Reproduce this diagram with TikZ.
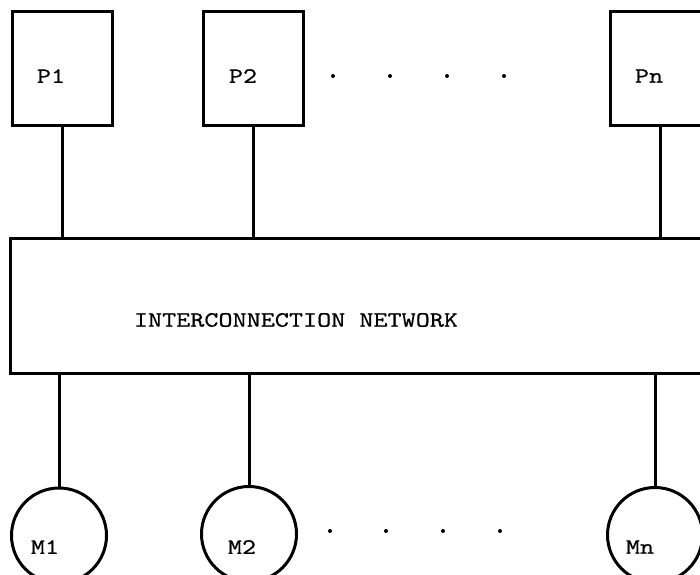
\documentclass[tikz,border=0pt]{standalone}
\usepackage{fontspec}
\newfontfamily\cfont[FakeStretch=1.22,FakeBold=0.6]{lmmono10-regular.otf}
\begin{document}
\begin{tikzpicture}[x=1pt,y=-1pt,
  every node/.style={font=\cfont\fontsize{22}{26}\selectfont},
  procbox/.style={draw,line width=3pt,minimum width=100pt,minimum height=114pt,inner sep=0pt},
  netbox/.style={draw,line width=3pt,minimum width=710pt,minimum height=135pt,inner sep=0pt},
  memcirc/.style={draw,circle,line width=3pt,minimum size=95pt,inner sep=0pt},
  link/.style={line width=3pt},
  dotmark/.style={fill=black,circle,inner sep=0pt,minimum size=4pt}]
\useasboundingbox (0,0) rectangle (700,574);
\clip (0,0) rectangle (700,574);
% processors
\node[procbox] (p1) at (62,68) {};
\node[procbox] (p2) at (253,68) {};
\node[procbox] (pn) at (660,68) {};
\node (p1l) at (51,76) {P1};
\node (p2l) at (243,76) {P2};
\node (pnl) at (649,76) {Pn};
% network
\node[netbox] (net) at (365,305.5) {};
\node (netl) at (296,320) {INTERCONNECTION NETWORK};
% memories
\node[memcirc] (m1) at (59,535.5) {};
\node[memcirc] (m2) at (249,534) {};
\node[memcirc] (mn) at (655,535) {};
\node (m1l) at (45,547) {M1};
\node (m2l) at (242,547) {M2};
\node (mnl) at (640,547) {Mn};
% links
\draw[link] (p1.south) -- (p1.south |- net.north);
\draw[link] (p2.south) -- (p2.south |- net.north);
\draw[link] (pn.south) -- (pn.south |- net.north);
\draw[link] (m1.north |- net.south) -- (m1.north);
\draw[link] (m2.north |- net.south) -- (m2.north);
\draw[link] (mn.north |- net.south) -- (mn.north);
% dots
\foreach \i/\x in {1/333,2/390,3/447,4/504} {
  \node[dotmark] (td\i) at (\x,76) {};
}
\foreach \i/\x in {1/330,2/386,3/443,4/500} {
  \node[dotmark] (bd\i) at (\x,531) {};
}
\end{tikzpicture}
\end{document}
